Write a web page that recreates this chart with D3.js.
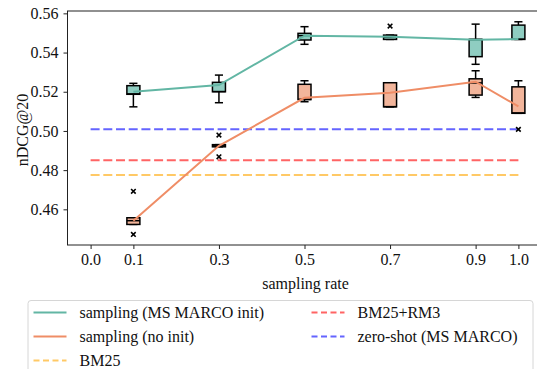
<!DOCTYPE html>
<html>
<head>
<meta charset="utf-8">
<script src="https://cdn.jsdelivr.net/npm/d3@7"></script>
<style>
  body { margin: 0; background: #fff; }
  svg text { font-family: "Liberation Serif", "Times New Roman", serif; fill: #111; }
</style>
</head>
<body>
<svg id="chart" width="537" height="369"></svg>
<script>
// sampling rates and the averaged curves
var rates = [0.1, 0.3, 0.5, 0.7, 0.9, 1.0];
var initMean = [0.5200, 0.5234, 0.5486, 0.5481, 0.5465, 0.5469];
var noInitMean = [0.4542, 0.4924, 0.5169, 0.5195, 0.5251, 0.5125];

// box stats: [whisker low, q1, median, q3, whisker high]
var initBoxes = [
  [0.5123, 0.5187, 0.5189, 0.5231, 0.5243],
  [0.5144, 0.5200, 0.5201, 0.5248, 0.5285],
  [0.5442, 0.5464, 0.5486, 0.5498, 0.5532],
  [0.5467, 0.5467, 0.5478, 0.5489, 0.5489],
  [0.5340, 0.5379, 0.5467, 0.5467, 0.5545],
  [0.5467, 0.5467, 0.5468, 0.5540, 0.5557]
];
var noInitBoxes = [
  [0.4523, 0.4523, 0.4542, 0.4557, 0.4557],
  [0.4919, 0.4919, 0.4924, 0.4930, 0.4930],
  [0.5149, 0.5160, 0.5161, 0.5238, 0.5256],
  [0.5123, 0.5123, 0.5124, 0.5246, 0.5246],
  [0.5171, 0.5183, 0.5245, 0.5266, 0.5307],
  [0.5090, 0.5090, 0.5092, 0.5225, 0.5256]
];
// outliers as [rate, value]
var initOutliers = [[0.7, 0.5535]];
var noInitOutliers = [[0.1, 0.4692], [0.1, 0.4472], [0.3, 0.4979], [0.3, 0.4868], [1.0, 0.5008]];

var baselineNames = ["BM25", "BM25+RM3", "zero-shot (MS MARCO)"];
var baselineValues = [0.4775, 0.4851, 0.5008];

var xTicks = [0.0, 0.1, 0.3, 0.5, 0.7, 0.9, 1.0];
var yTicks = [0.46, 0.48, 0.50, 0.52, 0.54, 0.56];

var teal = "#62b6a4", tealFill = "#8fcdc1";
var orange = "#ef8d66", orangeFill = "#f2b59b";
var baseColors = ["#ffc966", "#ff6464", "#6464ff"];

var svg = d3.select("#chart");
var plotLeft = 67.5, plotRight = 541.5, plotTop = 11, plotBottom = 245;
var fs = 16;

var x = d3.scaleLinear().domain([-0.054, 1.054]).range([plotLeft, plotRight]);
var y = d3.scaleLinear().domain([0.4418, 0.5612]).range([plotBottom, plotTop]);

// frame
svg.append("rect")
  .attr("x", plotLeft).attr("y", plotTop)
  .attr("width", plotRight - plotLeft).attr("height", plotBottom - plotTop)
  .attr("fill", "none").attr("stroke", "#222").attr("stroke-width", 1);

// axes
var xAxis = svg.append("g")
  .attr("transform", "translate(0," + plotBottom + ")")
  .call(d3.axisBottom(x).tickValues(xTicks).tickFormat(d3.format(".1f")).tickSize(4).tickPadding(5));
var yAxis = svg.append("g")
  .attr("transform", "translate(" + plotLeft + ",0)")
  .call(d3.axisLeft(y).tickValues(yTicks).tickFormat(d3.format(".2f")).tickSize(4).tickPadding(5));
[xAxis, yAxis].forEach(function(g) {
  g.select(".domain").remove();
  g.selectAll("line").attr("stroke", "#222");
  g.selectAll("text").attr("font-size", fs);
});

svg.append("text")
  .attr("x", (x(0) + x(1)) / 2 + 1).attr("y", 289)
  .attr("text-anchor", "middle").attr("font-size", fs)
  .text("sampling rate");
svg.append("text")
  .attr("transform", "translate(28," + 130 + ") rotate(-90)")
  .attr("text-anchor", "middle").attr("font-size", fs)
  .text("nDCG@20");

// baselines
svg.selectAll(".base")
  .data(baselineValues)
  .enter().append("line")
  .attr("x1", x(0)).attr("x2", x(1))
  .attr("y1", function(d) { return y(d); })
  .attr("y2", function(d) { return y(d); })
  .attr("stroke", function(d, i) { return baseColors[i]; })
  .attr("stroke-width", 2)
  .attr("stroke-dasharray", "9,3.7");

// mean lines
var line = d3.line()
  .x(function(d) { return x(d[0]); })
  .y(function(d) { return y(d[1]); });

function drawBoxes(boxes, fill) {
  var hw = 0.0152, cw = 0.0095;
  var g = svg.append("g");
  boxes.forEach(function(b, i) {
    var r = rates[i];
    g.append("line").attr("x1", x(r)).attr("x2", x(r))
      .attr("y1", y(b[0])).attr("y2", y(b[1])).attr("stroke", "#000").attr("stroke-width", 1.5);
    g.append("line").attr("x1", x(r)).attr("x2", x(r))
      .attr("y1", y(b[3])).attr("y2", y(b[4])).attr("stroke", "#000").attr("stroke-width", 1.5);
    [b[0], b[4]].forEach(function(v) {
      g.append("line").attr("x1", x(r - cw)).attr("x2", x(r + cw))
        .attr("y1", y(v)).attr("y2", y(v)).attr("stroke", "#000").attr("stroke-width", 1.5);
    });
    g.append("rect")
      .attr("x", x(r - hw)).attr("y", y(b[3]))
      .attr("width", x(r + hw) - x(r - hw))
      .attr("height", Math.max(1, y(b[1]) - y(b[3])))
      .attr("fill", fill).attr("stroke", "#000").attr("stroke-width", 1.5);
    g.append("line").attr("x1", x(r - hw)).attr("x2", x(r + hw))
      .attr("y1", y(b[2])).attr("y2", y(b[2])).attr("stroke", "#000").attr("stroke-width", 1.5);
  });
}

function drawOutliers(pts) {
  var s = 2.3;
  pts.forEach(function(p) {
    var cx = x(p[0]), cy = y(p[1]);
    svg.append("path")
      .attr("d", "M" + (cx - s) + "," + (cy - s) + "L" + (cx + s) + "," + (cy + s) +
                 "M" + (cx - s) + "," + (cy + s) + "L" + (cx + s) + "," + (cy - s))
      .attr("stroke", "#000").attr("stroke-width", 1.6);
  });
}

drawBoxes(initBoxes, tealFill);
drawBoxes(noInitBoxes, orangeFill);

svg.append("path")
  .datum(d3.zip(rates, initMean))
  .attr("d", line).attr("fill", "none")
  .attr("stroke", teal).attr("stroke-width", 2);
svg.append("path")
  .datum(d3.zip(rates, noInitMean))
  .attr("d", line).attr("fill", "none")
  .attr("stroke", orange).attr("stroke-width", 2);

drawOutliers(initOutliers);
drawOutliers(noInitOutliers);

// legend
var legendItems = [
  { name: "sampling (MS MARCO init)", color: teal, dash: null, col: 0, row: 0 },
  { name: "sampling (no init)", color: orange, dash: null, col: 0, row: 1 },
  { name: baselineNames[0], color: baseColors[0], dash: "6,3.5", col: 0, row: 2 },
  { name: baselineNames[1], color: baseColors[1], dash: "6,3.5", col: 1, row: 0 },
  { name: baselineNames[2], color: baseColors[2], dash: "6,3.5", col: 1, row: 1 }
];
svg.append("rect")
  .attr("x", 28).attr("y", 300.5)
  .attr("width", 505).attr("height", 90)
  .attr("rx", 3).attr("fill", "#fff")
  .attr("stroke", "#d6d6d6").attr("stroke-width", 1);
var colX = [33.5, 311.5];
var lg = svg.selectAll(".leg")
  .data(legendItems)
  .enter().append("g")
  .attr("transform", function(d) { return "translate(" + colX[d.col] + "," + (312.5 + d.row * 24) + ")"; });
lg.append("line")
  .attr("x1", 0).attr("x2", 33)
  .attr("stroke", function(d) { return d.color; })
  .attr("stroke-width", 2)
  .attr("stroke-dasharray", function(d) { return d.dash; });
lg.append("text")
  .attr("x", 46).attr("y", 5)
  .attr("font-size", fs)
  .text(function(d) { return d.name; });
</script>
</body>
</html>
